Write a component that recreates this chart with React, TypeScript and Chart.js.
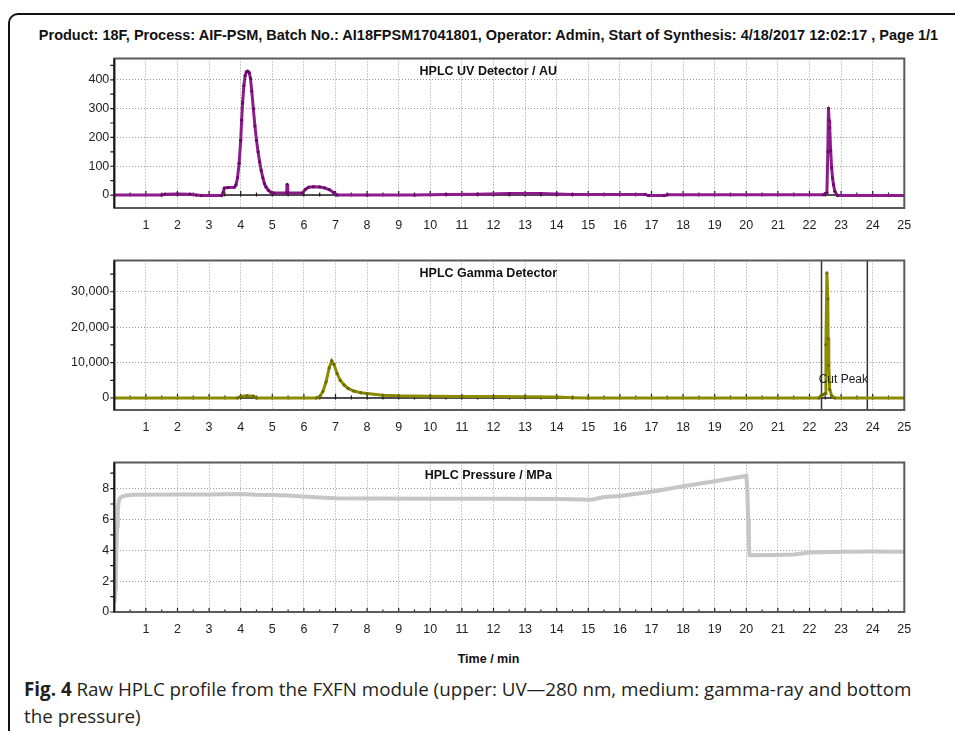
import React, { useEffect, useRef } from 'react';
import { Chart, registerables } from 'chart.js';

Chart.register(...registerables);

// ---------- data ----------
const timeMax = 25;

const uvTime = [0, 1.5, 1.6, 2.0, 2.4, 2.6, 2.75, 3.4, 3.45, 3.48, 3.6, 3.8, 3.85, 3.9, 3.95, 4.0, 4.03, 4.06, 4.1, 4.14, 4.18, 4.22, 4.27, 4.31, 4.35, 4.4, 4.45, 4.5, 4.55, 4.6, 4.65, 4.7, 4.75, 4.8, 4.88, 4.95, 5.05, 5.45, 5.47, 5.49, 5.95, 6.05, 6.15, 6.3, 6.5, 6.65, 6.8, 6.95, 7.05, 8.0, 9.5, 10.5, 11.5, 12.5, 13.5, 14.0, 14.5, 16.8, 16.9, 17.4, 17.5, 22.45, 22.5, 22.55, 22.58, 22.6, 22.62, 22.64, 22.67, 22.7, 22.73, 22.76, 22.8, 22.88, 25];
const uvSignal = [0, 0, 3, 4, 3, 0, -2, -2, 10, 24, 26, 27, 35, 60, 110, 190, 260, 320, 380, 415, 428, 430, 425, 405, 360, 300, 240, 190, 150, 115, 85, 60, 40, 28, 16, 10, 7, 7, 37, 8, 7, 20, 27, 29, 28, 25, 19, 8, 0, 0, 0, 2, 3, 5, 5, 4, 2, 2, -2, -2, 1, 1, 5, 8, 150, 302, 259, 233, 154, 95, 59, 36, 13, -2, -2];
const uvTicks = [0, 100, 200, 300, 400];
const uvRange = [-45, 474];

const gammaTime = [0, 3.9, 4.0, 4.2, 4.4, 4.5, 6.4, 6.5, 6.6, 6.7, 6.8, 6.88, 6.95, 7.05, 7.15, 7.27, 7.4, 7.58, 7.8, 8.0, 8.5, 9.0, 10, 11, 12, 13, 14, 14.5, 15, 22.3, 22.38, 22.45, 22.5, 22.52, 22.55, 22.58, 22.59, 22.61, 22.64, 22.7, 22.8, 25];
const gammaSignal = [0, 0, 400, 600, 500, 0, 0, 400, 1800, 4500, 8500, 10500, 9500, 6900, 5000, 3700, 2700, 1950, 1500, 1250, 800, 600, 500, 450, 400, 350, 250, 100, 0, 0, 800, 1000, 1300, 15000, 35300, 28000, 16800, 9300, 2400, 600, 0, 0];
const gammaTicks = [0, 10000, 20000, 30000];
const gammaRange = [-3390, 38820];
const cutWindow = [22.38, 23.83];
const cutLabel = { text: 'Cut Peak', x: 23.07, y: 5200 };

const pressureTime = [0, 0.03, 0.05, 0.07, 0.09, 0.11, 0.14, 0.2, 0.35, 0.6, 2, 3, 4, 4.5, 5.0, 5.5, 6.0, 6.5, 7.0, 8.0, 10, 12, 14, 14.5, 15.1, 15.5, 16.0, 17.0, 18.0, 19.0, 20.0, 20.03, 20.06, 20.08, 20.1, 21.0, 21.5, 22.0, 23.0, 24.0, 25.0];
const pressureSignal = [0.6, 1.5, 2.6, 4.2, 5.6, 6.6, 7.2, 7.45, 7.55, 7.6, 7.62, 7.62, 7.65, 7.6, 7.58, 7.55, 7.48, 7.42, 7.38, 7.35, 7.34, 7.34, 7.33, 7.3, 7.28, 7.45, 7.52, 7.8, 8.15, 8.48, 8.82, 8.0, 6.0, 4.8, 3.68, 3.7, 3.72, 3.85, 3.9, 3.92, 3.9];
const pressureTicks = [0, 2, 4, 6, 8];
const pressureRange = [0, 9.69];

const headerText = 'Product: 18F, Process: AIF-PSM, Batch No.: AI18FPSM17041801, Operator: Admin, Start of Synthesis: 4/18/2017 12:02:17 , Page 1/1';
const xAxisTitle = 'Time / min';
const captionBold = 'Fig. 4';
const captionLine1 = ' Raw HPLC profile from the FXFN module (upper: UV\u2014280 nm, medium: gamma-ray and bottom';
const captionLine2 = 'the pressure)';

// ---------- styling ----------
const FONT = "'Liberation Sans', Arial, sans-serif";
const AXIS_W = 114.3;
const X_AXIS_H = 26;
const PAD_TOP = 4;
const PAD_RIGHT = 955 - 904.3;
const TITLE_OFFSET = 374;

const decorPlugin = {
  id: 'decor',
  beforeDatasetsDraw(chart: any, _args: any, opts: any) {
    const { ctx, chartArea: a, scales } = chart;
    const x = scales.x;
    const y = scales.y;
    const y0 = y.getPixelForValue(0);
    ctx.save();
    ctx.strokeStyle = '#1a1a1a';
    ctx.lineWidth = 1.6;
    ctx.beginPath();
    ctx.moveTo(a.left, y0);
    ctx.lineTo(a.right, y0);
    ctx.stroke();
    ctx.lineWidth = 1.2;
    ctx.beginPath();
    for (let k = 1; k < timeMax * 2; k++) {
      const px = x.getPixelForValue(k / 2);
      const len = k % 2 === 0 ? 4 : 2.5;
      ctx.moveTo(px, y0 + (opts.bottomAxis ? 0 : 1.5));
      ctx.lineTo(px, y0 - len);
    }
    ctx.stroke();
    ctx.restore();
  },
  afterDatasetsDraw(chart: any, _args: any, opts: any) {
    const { ctx, chartArea: a, scales } = chart;
    const x = scales.x;
    const y = scales.y;
    ctx.save();
    ctx.strokeStyle = '#5a5a5a';
    ctx.lineWidth = 2;
    ctx.strokeRect(a.left, a.top, a.right - a.left, a.bottom - a.top);
    ctx.strokeStyle = '#1a1a1a';
    ctx.beginPath();
    ctx.moveTo(a.left, a.top);
    ctx.lineTo(a.left, a.bottom);
    ctx.stroke();
    ctx.lineWidth = 1.2;
    ctx.beginPath();
    const step = opts.minorStep;
    for (let v = Math.ceil(y.min / step) * step; v <= y.max; v += step) {
      const py = y.getPixelForValue(v);
      ctx.moveTo(a.left - 4, py);
      ctx.lineTo(a.left, py);
    }
    ctx.stroke();
    ctx.fillStyle = '#111';
    ctx.font = `bold 12.5px ${FONT}`;
    ctx.textAlign = 'center';
    ctx.textBaseline = 'middle';
    ctx.fillText(opts.title, a.left + TITLE_OFFSET, a.top + 13);
    if (opts.label) {
      ctx.font = `12px ${FONT}`;
      ctx.fillStyle = '#222';
      ctx.fillText(opts.label.text, x.getPixelForValue(opts.label.x), y.getPixelForValue(opts.label.y));
    }
    ctx.restore();
  },
};

function points(ts: number[], vs: number[]) {
  return ts.map((t, i) => ({ x: t, y: vs[i] }));
}

function makeChart(canvas: HTMLCanvasElement, cfg: any) {
  const datasets: any[] = [
    {
      data: points(cfg.time, cfg.values),
      borderColor: cfg.color,
      borderWidth: cfg.lineWidth,
      pointRadius: cfg.pointRadius,
      pointBackgroundColor: cfg.pointColor,
      pointBorderWidth: 0,
      tension: 0,
      order: 1,
    },
    ...(cfg.extra || []),
  ];
  return new Chart(canvas, {
    type: 'line',
    data: { datasets },
    plugins: [decorPlugin],
    options: {
      animation: false,
      responsive: false,
      events: [],
      layout: { padding: { top: PAD_TOP, right: PAD_RIGHT, left: 0, bottom: 0 } },
      plugins: {
        legend: { display: false },
        tooltip: { enabled: false },
        decor: { title: cfg.title, minorStep: cfg.minorStep, label: cfg.label, bottomAxis: cfg.bottomAxis },
      } as any,
      scales: {
        x: {
          type: 'linear',
          min: 0,
          max: timeMax,
          afterFit: (s: any) => { s.height = X_AXIS_H; },
          ticks: {
            stepSize: 1,
            autoSkip: false,
            maxRotation: 0,
            padding: 10,
            color: '#222',
            font: { family: FONT, size: 12.5 },
            callback: (v: any) => (Number(v) === 0 ? '' : String(v)),
          },
          grid: { color: '#999', lineWidth: 1, drawTicks: false },
          border: { display: false, dash: [1, 2] },
        },
        y: {
          type: 'linear',
          min: cfg.range[0],
          max: cfg.range[1],
          afterFit: (s: any) => { s.width = AXIS_W; },
          afterBuildTicks: (s: any) => { s.ticks = cfg.ticks.map((v: number) => ({ value: v })); },
          ticks: {
            padding: 5,
            color: '#222',
            font: { family: FONT, size: 12.5 },
            callback: (v: any) => Number(v).toLocaleString('en-US'),
          },
          grid: { color: '#999', lineWidth: 1, drawTicks: false },
          border: { display: false, dash: [1, 2] },
        },
      },
    } as any,
  });
}

const canvasStyle = (top: number): React.CSSProperties => ({ position: 'absolute', left: 0, top, width: 955, height: 188 });

export default function App() {
  const r1 = useRef<HTMLCanvasElement>(null);
  const r2 = useRef<HTMLCanvasElement>(null);
  const r3 = useRef<HTMLCanvasElement>(null);

  useEffect(() => {
    const charts = [
      makeChart(r1.current!, {
        time: uvTime, values: uvSignal, color: '#8c1c8c', pointColor: '#6a0a6a', lineWidth: 3, pointRadius: 1.6,
        range: uvRange, ticks: uvTicks, minorStep: 50, title: 'HPLC UV Detector / AU',
      }),
      makeChart(r2.current!, {
        time: gammaTime, values: gammaSignal, color: '#8c8c00', pointColor: '#6a6a00', lineWidth: 3, pointRadius: 1.6,
        range: gammaRange, ticks: gammaTicks, minorStep: 5000, title: 'HPLC Gamma Detector', label: cutLabel,
        extra: cutWindow.map((c) => ({
          data: [{ x: c, y: gammaRange[0] }, { x: c, y: gammaRange[1] }],
          borderColor: '#333', borderWidth: 1.5, pointRadius: 0, order: 2,
        })),
      }),
      makeChart(r3.current!, {
        time: pressureTime, values: pressureSignal, color: '#c6c6c6', pointColor: '#b8b8b8', lineWidth: 4, pointRadius: 0,
        range: pressureRange, ticks: pressureTicks, minorStep: 1, title: 'HPLC Pressure / MPa', bottomAxis: true,
      }),
    ];
    return () => charts.forEach((c) => c.destroy());
  }, []);

  return (
    <div style={{ position: 'absolute', left: 0, top: 0, width: 955, height: 731, overflow: 'hidden', background: '#fff' }}>
      <div style={{ position: 'absolute', left: 8, top: 13, width: 1000, height: 800, borderTop: '2px solid #111', borderLeft: '2px solid #111', borderTopLeftRadius: 10, boxSizing: 'border-box' }} />
      <div style={{ position: 'absolute', left: 0, top: 27, width: 977, textAlign: 'center', font: `bold 14.5px ${FONT}`, color: '#111', whiteSpace: 'nowrap', lineHeight: '16px' }}>{headerText}</div>
      <canvas ref={r1} width={955} height={188} style={canvasStyle(46)} />
      <canvas ref={r2} width={955} height={188} style={canvasStyle(248)} />
      <canvas ref={r3} width={955} height={188} style={canvasStyle(450)} />
      <div style={{ position: 'absolute', left: 0, top: 651, width: 977, textAlign: 'center', font: `bold 12.5px ${FONT}`, color: '#111', lineHeight: '16px' }}>{xAxisTitle}</div>
      <div style={{ position: 'absolute', left: 24, top: 676, width: 940, font: "18.8px 'Open Sans', 'Noto Sans', sans-serif", lineHeight: '27px', color: '#231f20', whiteSpace: 'nowrap' }}>
        <div><b>{captionBold}</b>{captionLine1}</div>
        <div>{captionLine2}</div>
      </div>
    </div>
  );
}
